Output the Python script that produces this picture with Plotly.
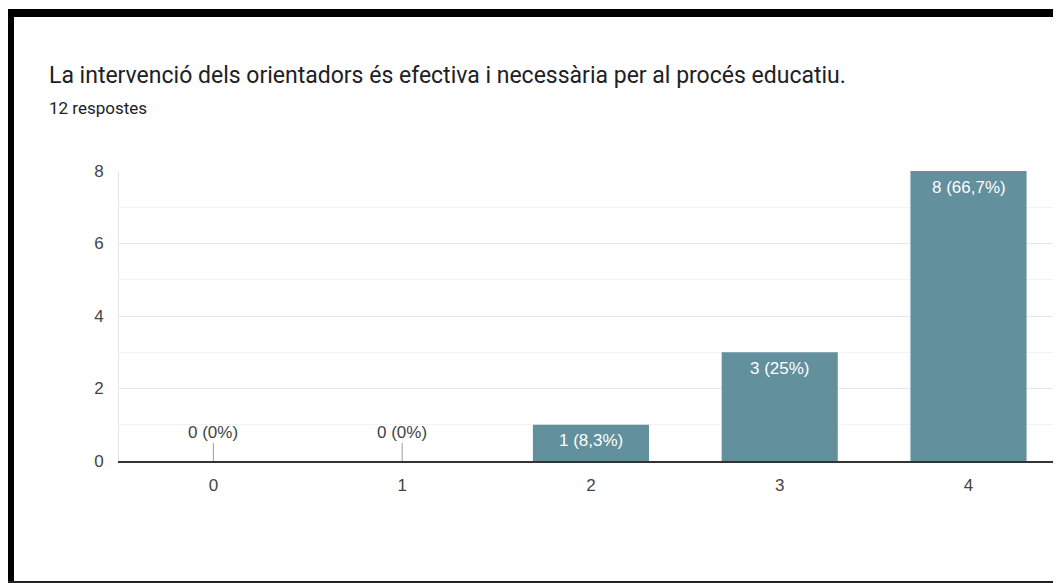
import plotly.graph_objects as go

# Data
categories = [0, 1, 2, 3, 4]
counts = [0, 0, 1, 3, 8]
total_responses = 12
title_text = "La intervenció dels orientadors és efectiva i necessària per al procés educatiu."
subtitle_text = f"{total_responses} respostes"
y_ticks = [0, 2, 4, 6, 8]


def fmt_pct(c, total):
    p = round(100 * c / total, 1)
    s = f"{p:.1f}".rstrip("0").rstrip(".")
    return s.replace(".", ",")


labels = [f"{c} ({fmt_pct(c, total_responses)}%)" for c in counts]

# the page has an 8px body margin; figure occupies page px 8..1061 x 8..583
OFF = 8
W, H = 1061 - OFF, 583 - OFF
L, R, T, B = 119 - OFF, 0, 171 - OFF, 122
pw, ph = W - L - R, H - T - B


def px_x(x):  # page px -> paper
    return (x - OFF - L) / pw


def px_y(y):
    return (H - B - (y - OFF)) / ph


BAR = "#62909d"
CHART_FONT = "Arial, Liberation Sans, sans-serif"
FS = 17

fig = go.Figure()
fig.add_trace(go.Bar(
    x=categories, y=counts,
    marker=dict(color=BAR, line=dict(width=0)),
    width=0.615, hoverinfo="skip",
))

annotations = []
for c, v, t in zip(categories, counts, labels):
    if v == 0:
        annotations.append(dict(
            x=c, y=v, xref="x", yref="y", text=t, showarrow=True,
            ax=0, ay=-29, arrowhead=0, arrowwidth=1, arrowcolor="#9e9e9e",
            standoff=0, startstandoff=0,
            font=dict(size=FS, color="#444444", family=CHART_FONT),
        ))
    else:
        annotations.append(dict(
            x=c, y=v, xref="x", yref="y", text=t, showarrow=False,
            yanchor="middle", yshift=-16,
            font=dict(size=FS, color="white", family=CHART_FONT),
        ))

annotations.append(dict(
    x=px_x(47), y=px_y(75), xref="paper", yref="paper", xanchor="left", yanchor="middle",
    text=title_text, showarrow=False,
    font=dict(size=23, color="#202124", family="Roboto"),
))
annotations.append(dict(
    x=px_x(47), y=px_y(108), xref="paper", yref="paper", xanchor="left", yanchor="middle",
    text=subtitle_text, showarrow=False,
    font=dict(size=17, color="#202124", family="Roboto"),
))

shapes = [
    dict(type="rect", xref="paper", yref="paper", x0=px_x(8), x1=px_x(1061), y0=px_y(17), y1=px_y(9),
         fillcolor="black", line=dict(width=0), layer="above"),
    dict(type="rect", xref="paper", yref="paper", x0=px_x(8), x1=px_x(14), y0=px_y(583), y1=px_y(9),
         fillcolor="black", line=dict(width=0), layer="above"),
    dict(type="rect", xref="paper", yref="paper", x0=px_x(8), x1=px_x(1061), y0=px_y(583), y1=px_y(581),
         fillcolor="#222222", line=dict(width=0), layer="above"),
]

fig.update_layout(
    width=W, height=H,
    margin=dict(l=L, r=R, t=T, b=B, pad=0),
    paper_bgcolor="white", plot_bgcolor="white",
    showlegend=False,
    annotations=annotations,
    shapes=shapes,
    font=dict(family=CHART_FONT, color="#444444"),
)
fig.update_xaxes(
    type="linear", range=[-0.5, 4.49], tickmode="array", tickvals=categories,
    ticktext=[str(c) for c in categories],
    showgrid=False, zeroline=False,
    showline=True, linecolor="#333333", linewidth=2,
    ticks="", tickfont=dict(size=FS, color="#444444"), ticklabelstandoff=8,
    fixedrange=True,
)
fig.update_yaxes(
    range=[0, 8], tickmode="array", tickvals=y_ticks,
    showgrid=True, gridcolor="#e6e6e6", gridwidth=1,
    minor=dict(dtick=1, showgrid=True, gridcolor="#f3f3f3", gridwidth=1),
    zeroline=False, showline=True, linecolor="#e6e6e6", linewidth=1,
    ticks="", tickfont=dict(size=FS, color="#444444"), ticklabelstandoff=11,
    fixedrange=True,
)

fig.write_html("out.html")
